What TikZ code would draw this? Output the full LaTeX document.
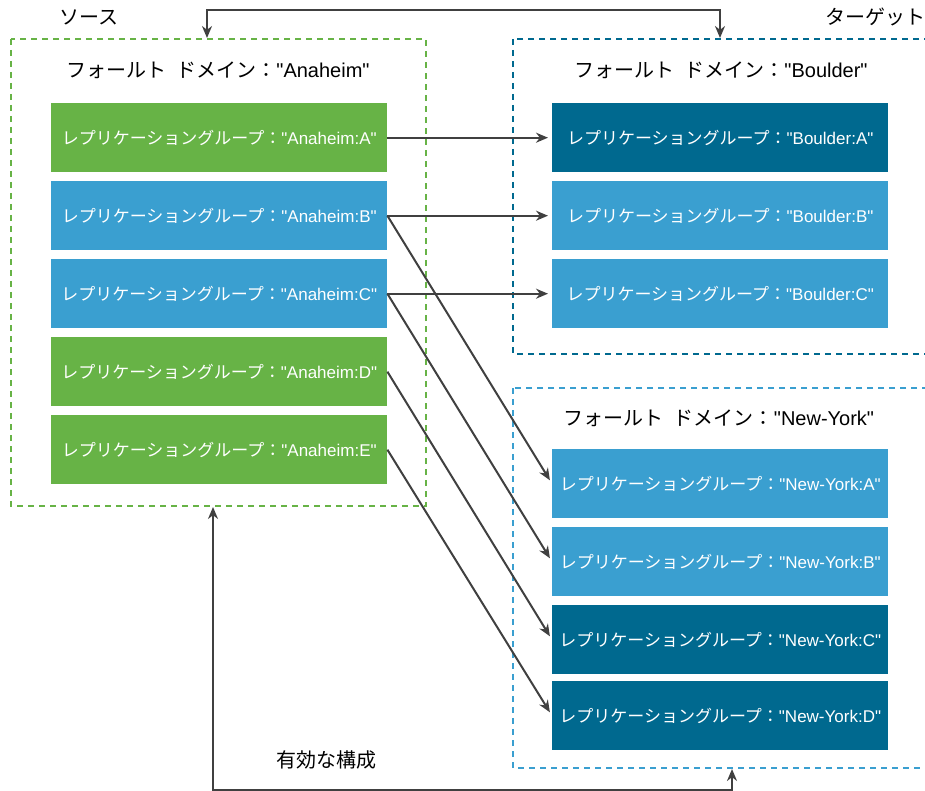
\documentclass[tikz,border=0pt]{standalone}
\usepackage{fontspec}
\setmainfont{Liberation Sans}[Ligatures=TeXOff]
\newfontfamily\jp{Noto Sans CJK JP}
\usetikzlibrary{arrows.meta}
\definecolor{grpgreen}{HTML}{67B346}
\definecolor{grplight}{HTML}{3A9FD0}
\definecolor{grpdark}{HTML}{00698F}
\definecolor{linkgray}{HTML}{404040}
\newcommand{\rglabel}[1]{{\jp レプリケーショングループ：}"#1"}
\newcommand{\fdlabel}[1]{{\jp フォールト\hspace{0.5em}ドメイン：}"#1"}

\begin{document}
\begin{tikzpicture}[x=1pt, y=-1pt,
		rgbox/.style={minimum width=336pt, minimum height=69pt, inner sep=0pt, anchor=north west, text=white, font=\fontsize{17}{20}\selectfont},
		faultzone/.style={line width=2.2pt, dash pattern=on 6pt off 5pt},
		link/.style={draw=linkgray, line width=2pt, -{Stealth[length=12pt,width=10pt]}, shorten >=4pt},
		both/.style={draw=linkgray, line width=2pt, {Stealth[length=12pt,width=10pt]}-{Stealth[length=12pt,width=10pt]}},
		heading/.style={font=\fontsize{20}{24}\selectfont}]
		\useasboundingbox (0,0) rectangle (925,791);

		% fault domains
		\draw[faultzone, draw=grpgreen] (11,39) rectangle (426,506);
		\draw[faultzone, draw=grpdark] (513,39) rectangle (940,354);
		\draw[faultzone, draw=grplight] (513,388) rectangle (940,768);

		\node[heading] (srcLbl) at (89,17) {\jp ソース};
		\node[heading] (tgtLbl) at (875,17) {\jp ターゲット};
		\node[heading] (validLbl) at (326,760) {\jp 有効な構成};

		\node[heading] (anaTitle) at (218,70) {\fdlabel{Anaheim}};
		\node[heading] (bouTitle) at (721,70) {\fdlabel{Boulder}};
		\node[heading] (nyTitle) at (719,418) {\fdlabel{New-York}};

		% replication groups
		\node[rgbox, fill=grpgreen] (anaA) at (51,103) {\rglabel{Anaheim:A}};
		\node[rgbox, fill=grplight] (anaB) at (51,181) {\rglabel{Anaheim:B}};
		\node[rgbox, fill=grplight] (anaC) at (51,259) {\rglabel{Anaheim:C}};
		\node[rgbox, fill=grpgreen] (anaD) at (51,337) {\rglabel{Anaheim:D}};
		\node[rgbox, fill=grpgreen] (anaE) at (51,415) {\rglabel{Anaheim:E}};

		\node[rgbox, fill=grpdark] (bouA) at (552,103) {\rglabel{Boulder:A}};
		\node[rgbox, fill=grplight] (bouB) at (552,181) {\rglabel{Boulder:B}};
		\node[rgbox, fill=grplight] (bouC) at (552,259) {\rglabel{Boulder:C}};

		\node[rgbox, fill=grplight] (nyA) at (552,449) {\rglabel{New-York:A}};
		\node[rgbox, fill=grplight] (nyB) at (552,527) {\rglabel{New-York:B}};
		\node[rgbox, fill=grpdark] (nyC) at (552,605) {\rglabel{New-York:C}};
		\node[rgbox, fill=grpdark] (nyD) at (552,681) {\rglabel{New-York:D}};

		\draw[link] (anaA.east) -- (bouA.west);
		\draw[link] (anaB.east) -- (bouB.west);
		\draw[link] (anaC.east) -- (bouC.west);
		\draw[link] (anaB.east) -- (nyA.west);
		\draw[link] (anaC.east) -- (nyB.west);
		\draw[link] (anaD.east) -- (nyC.west);
		\draw[link] (anaE.east) -- (nyD.west);

		% source <-> target
		\coordinate (srcTop) at (207,38);
		\coordinate (tgtTop) at (720,38);
		\coordinate (srcBot) at (213,507);
		\coordinate (nyBot) at (732,769);
		\draw[both] (srcTop) -- ++(0,-28) -| (tgtTop);
		\draw[both] (srcBot) -- (213,790) -| (nyBot);
	\end{tikzpicture}
\end{document}
